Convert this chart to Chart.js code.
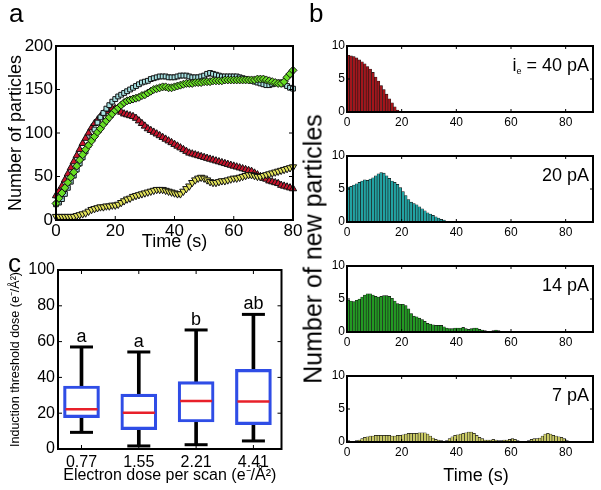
<!DOCTYPE html>
<html><head><meta charset="utf-8">
<script src="https://cdn.jsdelivr.net/npm/chart.js@4.4.1/dist/chart.umd.min.js"></script>
<style>
html,body{margin:0;padding:0;background:#fff;width:601px;height:490px;overflow:hidden;font-family:"Liberation Sans",Arial,sans-serif}
canvas{position:absolute}
.lbl{position:absolute;color:#000;white-space:nowrap;line-height:1}
</style></head><body>
<canvas id="cc" width="300" height="250" style="left:0;top:240px"></canvas>
<canvas id="ca" width="312" height="258" style="left:0;top:0"></canvas>
<canvas id="cb0" width="301" height="96" style="left:300px;top:34px"></canvas>
<canvas id="cb1" width="301" height="96" style="left:300px;top:144px"></canvas>
<canvas id="cb2" width="301" height="96" style="left:300px;top:254px"></canvas>
<canvas id="cb3" width="301" height="96" style="left:300px;top:364px"></canvas>
<div class="lbl" style="left:9px;top:0px;font-size:26px">a</div>
<div class="lbl" style="left:309px;top:0px;font-size:26px">b</div>
<div class="lbl" style="left:8px;top:250px;font-size:26px">c</div>
<div class="lbl" style="left:313px;top:249px;font-size:25px;transform:translate(-50%,-50%) rotate(-90deg)">Number of new particles</div>
<div class="lbl" style="left:476px;top:475px;font-size:18px;transform:translate(-50%,-50%)">Time (s)</div>
<script>
// ---------- Panel a: number of particles vs time ----------
const redA = [28,33,39,46,53,60,67,74,81,88,94,100,106,111,115,119,122,125,127,128,128,126,124,122,121,120,119,117,114,111,108,105,103,101,99,97,95,93,91,89,87,85,83,81,79,77,76,75,74,73,72,71,70,69,68,67,66,65,64,63,62,61,60,59,58,57,56,54,52,50,48,47,45,44,43,42,40,39,38,37,36];
const cyanA = [18,20,24,30,37,44,51,58,65,72,79,86,95,104,112,118,123,128,132,136,139,142,144,146,148,150,152,154,156,158,159,160,162,163,164,165,165,165,164,164,164,165,166,166,166,165,164,164,164,165,166,168,169,168,167,166,165,165,165,165,165,165,164,163,162,161,160,159,158,157,156,155,155,156,157,158,158,156,154,152,151];
const greenA = [19,25,31,37,43,49,55,62,69,75,81,86,91,96,101,105,110,114,118,122,126,129,132,135,137,138,139,140,141,143,144,146,148,150,151,152,153,153,152,152,153,154,155,156,157,157,157,158,158,158,159,159,159,160,160,160,160,161,161,161,161,161,161,161,161,161,161,161,162,162,162,161,160,159,158,157,157,159,164,168,172];
const yellowA = [4,4,4,4,4,4,4,5,6,7,8,10,12,13,14,15,15,16,16,17,17,18,20,22,24,25,27,28,29,30,31,32,33,34,35,35,35,34,33,32,31,30,30,33,36,39,43,46,48,49,48,46,44,43,43,44,45,45,46,47,48,48,49,50,51,52,52,51,50,50,51,52,53,54,55,56,57,58,59,60,61];
const timeA = redA.map((_, i) => i);
const ticksAx = [0,20,40,60,80];
const ticksAy = [0,50,100,150,200];

// ---------- Panel b: new particles per second ----------
const newP40 = [8.6,8.5,8.4,8.2,7.9,7.6,7.3,6.9,6.5,6.0,5.3,4.7,4.0,3.4,2.7,2.0,1.4,0.8,0.3];
const newP20 = [5.3,5.4,5.6,5.8,6.0,6.2,6.4,6.3,6.5,6.7,7.0,7.3,7.5,7.4,7.0,6.6,6.2,6.0,5.7,5.2,4.6,4.0,3.4,3.0,2.8,2.6,2.3,2.0,1.7,1.4,1.2,1.0,0.8,0.6,0.4,0.3,0.1];
const newP14 = [4.8,4.7,4.6,4.8,5.0,5.3,5.6,5.8,5.8,5.6,5.4,5.3,5.4,5.5,5.5,5.4,5.1,4.7,4.3,4.2,4.2,4.0,3.5,2.8,2.4,2.3,2.1,1.9,1.6,1.3,1.2,1.1,1.0,1.0,1.0,0.8,0.6,0.5,0.5,0.6,0.6,0.6,0.7,0.5,0.4,0.5,0.6,0.6,0.4,0.3,0.2,0.1,0.1,0.2,0.3,0.2,0.1];
const newP7 = [0.2,0.1,0.1,0.2,0.3,0.5,0.7,0.8,0.9,0.9,1.0,1.0,1.0,1.0,1.0,1.0,0.9,0.9,1.0,1.0,1.1,1.2,1.3,1.3,1.3,1.3,1.4,1.4,1.4,1.2,0.9,0.6,0.4,0.3,0.2,0.1,0.2,0.5,0.8,1.0,1.1,1.2,1.3,1.4,1.5,1.5,1.3,1.0,0.7,0.5,0.3,0.3,0.3,0.4,0.3,0.2,0.2,0.3,0.3,0.4,0.5,0.4,0.2,0.1,0.1,0.1,0.2,0.4,0.5,0.5,0.6,0.9,1.2,1.3,1.2,1.0,0.9,0.8,0.7,0.5,0.2];
const currentLabels = ['40 pA','20 pA','14 pA','7 pA'];
const ticksBx = [0,20,40,60,80];
const ticksBy = [0,5,10];

// ---------- Panel c: box plots ----------
const doseLabels = ['0.77','1.55','2.21','4.41'];
const boxMin = [9.3,1.7,2.4,4.5];
const boxQ1 = [17.5,10.8,15.1,13.6];
const boxMed = [22.2,20.3,26.8,26.6];
const boxQ3 = [35.2,30.7,37.6,44.5];
const boxMax = [57.0,54.2,66.5,75.2];
const sigLetters = ['a','a','b','ab'];
const ticksCy = [0,20,40,60,80,100];

const FONT = '"Liberation Sans", Arial, sans-serif';

const frame = {
  id: 'frame',
  afterDatasetsDraw(chart, args, o) {
    const {ctx, chartArea: a, scales} = chart;
    const tl = o.tickLen || 4;
    ctx.save();
    ctx.strokeStyle = '#000';
    ctx.lineWidth = 1;
    ctx.beginPath();
    scales.x.ticks.forEach(t => {
      const p = scales.x.getPixelForValue(t.value);
      ctx.moveTo(p, a.bottom); ctx.lineTo(p, a.bottom - tl);
      ctx.moveTo(p, a.top); ctx.lineTo(p, a.top + tl);
    });
    scales.y.ticks.forEach(t => {
      const p = scales.y.getPixelForValue(t.value);
      ctx.moveTo(a.left, p); ctx.lineTo(a.left + tl, p);
      ctx.moveTo(a.right, p); ctx.lineTo(a.right - tl, p);
    });
    ctx.stroke();
    ctx.lineWidth = o.lw || 2;
    ctx.strokeRect(a.left, a.top, a.right - a.left, a.bottom - a.top);
    ctx.restore();
  }
};

function fixedAxis(ticks, min, max, font, pad, size, horizontal, title, extra) {
  const ax = {
    type: 'linear', min, max,
    grid: {display: false, drawTicks: false},
    border: {display: false},
    ticks: {font: {family: FONT, size: font}, color: '#000', padding: pad, maxRotation: 0, autoSkip: false},
    afterBuildTicks(s) { s.ticks = ticks.map(v => ({value: v})); },
    afterFit(s) {
      if (horizontal) s.height = size; else s.width = size;
      s.paddingLeft = s.paddingRight = s.paddingTop = s.paddingBottom = 0;
    }
  };
  if (title) ax.title = title;
  return Object.assign(ax, extra || {});
}

// ----- Panel a -----
function mk(values, style, color, r, rot) {
  return {
    data: values.map((v, i) => ({x: timeA[i], y: v})),
    showLine: false, clip: false,
    pointStyle: style, pointRotation: rot || 0, pointRadius: r,
    pointBackgroundColor: color, pointBorderColor: '#111', pointBorderWidth: 1
  };
}
new Chart(document.getElementById('ca'), {
  type: 'line',
  data: {datasets: [
    mk(greenA, 'rectRot', '#66dd22', 4),
    mk(cyanA, 'rect', '#a6e2e2', 3.4),
    mk(yellowA, 'triangle', '#e2e25a', 4.2, 180),
    mk(redA, 'triangle', '#c8142c', 4.2)
  ]},
  options: {
    responsive: false, animation: false, events: [],
    layout: {padding: {top: 46, right: 19, left: 0, bottom: 0}},
    plugins: {legend: {display: false}, tooltip: {enabled: false}, frame: {}},
    scales: {
      x: fixedAxis(ticksAx, 0, 80, 17, 1, 38, true,
        {display: true, text: 'Time (s)', color: '#000', font: {family: FONT, size: 18}, padding: {top: 0, bottom: 5}}),
      y: fixedAxis(ticksAy, 0, 200, 17, 3, 56, false,
        {display: true, text: 'Number of particles', color: '#000', font: {family: FONT, size: 18}, padding: {top: 5, bottom: 0}})
    }
  },
  plugins: [frame]
});

// ----- Panel b -----
const annot = {
  id: 'annot',
  afterDraw(chart, args, o) {
    if (!o || !o.text) return;
    const {ctx, chartArea: a} = chart;
    ctx.save();
    ctx.fillStyle = '#000';
    ctx.textBaseline = 'alphabetic';
    ctx.textAlign = 'right';
    const f = '18px ' + FONT, fs = '9px ' + FONT;
    let x = a.right - 4;
    const y = a.top + 25;
    ctx.font = f;
    ctx.fillText(o.text, x, y);
    if (o.pre) {
      x -= ctx.measureText(o.text).width;
      ctx.font = fs;
      ctx.fillText(o.sub, x, y + 3);
      x -= ctx.measureText(o.sub).width;
      ctx.font = f;
      ctx.fillText(o.pre, x, y);
    }
    ctx.restore();
  }
};
const bSeries = [newP40, newP20, newP14, newP7];
const bColors = ['#a3161c', '#22a3a3', '#239a23', '#cccc66'];
bSeries.forEach((vals, k) => {
  const ann = k === 0 ? {pre: 'i', sub: 'e', text: ' = ' + currentLabels[0]} : {text: currentLabels[k]};
  new Chart(document.getElementById('cb' + k), {
    type: 'bar',
    data: {datasets: [{
      data: vals.map((v, i) => ({x: i + 0.5, y: v})),
      backgroundColor: bColors[k], borderColor: '#151515', borderWidth: 0.6,
      borderSkipped: 'start', barPercentage: 1, categoryPercentage: 1
    }]},
    options: {
      responsive: false, animation: false, events: [],
      layout: {padding: {top: 12, right: 8, left: 0, bottom: 0}},
      plugins: {legend: {display: false}, tooltip: {enabled: false}, frame: {tickLen: 3}, annot: ann},
      scales: {
        x: fixedAxis(ticksBx, 0, 90, 12, 3, 18, true, null, {offset: false}),
        y: fixedAxis(ticksBy, 0, 10, 12, 2, 47, false)
      }
    },
    plugins: [frame, annot]
  });
});

// ----- Panel c -----
const letters = {
  id: 'letters',
  afterDatasetsDraw(chart) {
    const {ctx, scales} = chart;
    ctx.save();
    ctx.fillStyle = '#000';
    ctx.font = '18px ' + FONT;
    ctx.textAlign = 'center';
    ctx.textBaseline = 'alphabetic';
    sigLetters.forEach((s, i) => {
      ctx.fillText(s, scales.x.getPixelForValue(i + 1), scales.y.getPixelForValue(boxMax[i]) - 5);
    });
    ctx.restore();
  }
};
const pos = doseLabels.map((_, i) => i + 1);
new Chart(document.getElementById('cc'), {
  type: 'bar',
  data: {datasets: [
    {type: 'line', data: pos.map((p, i) => ({x: p, y: boxMed[i]})), showLine: false,
     pointStyle: 'line', pointRadius: 16, pointBorderColor: '#e8202a', pointBorderWidth: 2.5, clip: false},
    {type: 'line', data: pos.map((p, i) => ({x: p, y: boxMax[i]})), showLine: false,
     pointStyle: 'line', pointRadius: 11.5, pointBorderColor: '#000', pointBorderWidth: 3, clip: false},
    {type: 'line', data: pos.map((p, i) => ({x: p, y: boxMin[i]})), showLine: false,
     pointStyle: 'line', pointRadius: 11.5, pointBorderColor: '#000', pointBorderWidth: 3, clip: false},
    {data: pos.map((p, i) => ({x: p, y: [boxQ1[i], boxQ3[i]]})), grouped: false,
     backgroundColor: 'rgba(255,255,255,0)', borderColor: '#2f4de6', borderWidth: 2.5, borderSkipped: false, barThickness: 36},
    {data: pos.map((p, i) => ({x: p, y: [boxMin[i], boxQ1[i]]})), grouped: false,
     backgroundColor: '#000', borderWidth: 0, barThickness: 3},
    {data: pos.map((p, i) => ({x: p, y: [boxQ3[i], boxMax[i]]})), grouped: false,
     backgroundColor: '#000', borderWidth: 0, barThickness: 3}
  ]},
  options: {
    responsive: false, animation: false, events: [],
    layout: {padding: {top: 30, right: 5, left: 0, bottom: 0}},
    plugins: {legend: {display: false}, tooltip: {enabled: false}, frame: {}},
    scales: {
      x: fixedAxis(pos, 0.59, 4.49, 16, 4, 41, true,
        {display: true, text: 'Electron dose per scan (e\u207B/\u00C5\u00B2)', color: '#000', font: {family: FONT, size: 16}, padding: {top: 0, bottom: 5}},
        {offset: false, ticks: {font: {family: FONT, size: 16}, color: '#000', padding: 4, maxRotation: 0, autoSkip: false,
          callback: (v) => doseLabels[Math.round(v) - 1]}}),
      y: fixedAxis(ticksCy, 0, 100, 16, 3, 58, false,
        {display: true, text: 'Induction threshold dose (e\u207B/\u00C5\u00B2)', color: '#000', font: {family: FONT, size: 12.5}, padding: {top: 8, bottom: 0}})
    }
  },
  plugins: [frame, letters]
});
</script>
</body></html>
